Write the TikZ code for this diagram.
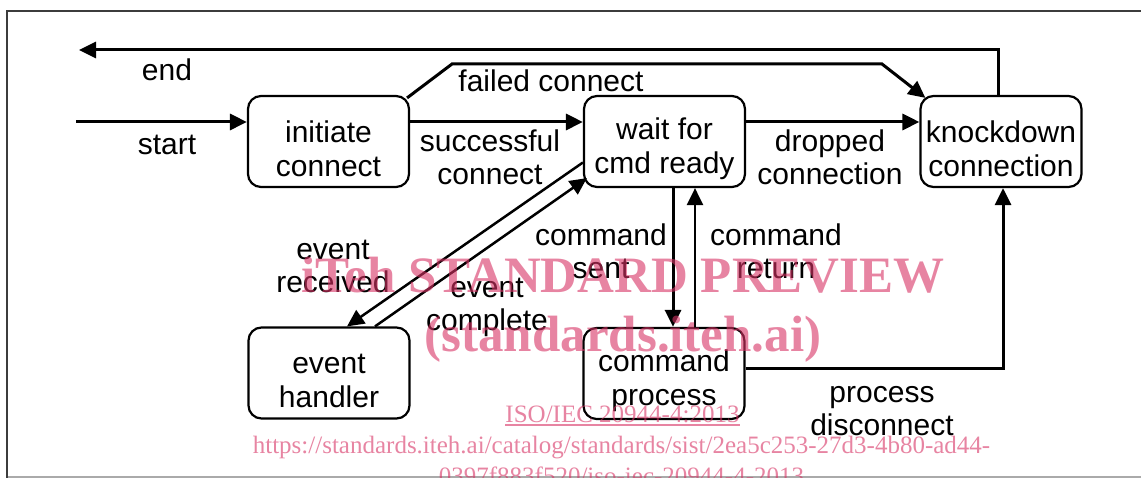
\documentclass[tikz,border=0pt]{standalone}
\usepackage{fontspec}
\setmainfont{Liberation Sans}
\newfontfamily\wmfont{Liberation Serif}
\usetikzlibrary{arrows.meta}
\definecolor{wmpink}{RGB}{215,50,100}
\definecolor{framedark}{RGB}{60,60,60}
\definecolor{framelight}{RGB}{170,170,170}
% raises the top of the first text line so two-line box texts sit a little lower
\newcommand{\topstrut}{\rule{0pt}{36pt}}
\tikzset{
  state/.style={draw, line width=2.2pt, rounded corners=13pt,
    minimum width=161pt, minimum height=91pt, inner sep=0pt,
    align=center, font=\fontsize{30}{34}\selectfont},
  lbl/.style={align=center, inner sep=0pt, font=\fontsize{30}{33}\selectfont},
  arr/.style={line width=3pt, -{Triangle[length=17pt,width=16pt]}},
  thinarr/.style={line width=2.5pt, -{Triangle[length=17pt,width=16pt]}},
  wm/.style={text=wmpink, text opacity=0.6, inner sep=0pt, anchor=base}
}
\begin{document}
\begin{tikzpicture}[x=1pt,y=-1pt]
  \clip (0,0) rectangle (1141,478);

  % page frame
  \draw[framedark, line width=2pt] (7,478) -- (7,11) -- (1141,11);
  \draw[framelight, line width=2pt] (8,477) -- (1141,477);

  % states
  \node[state] (init)    at (328.5,141.5) {\topstrut initiate\\connect};
  \node[state] (wait)    at (664.5,141.5) {\topstrut wait for\\cmd ready};
  \node[state] (knock)   at (1001,141.5)  {\topstrut knockdown\\connection};
  \node[state] (handler) at (329,373)     {\topstrut event\\handler};
  \node[state] (proc)    at (664,373.5)   {\topstrut command\\process};

  % free ends
  \coordinate (startpt) at (76,122);
  \coordinate (endpt)   at (79,50);
  \coordinate (fc1)     at (452,64);
  \coordinate (fc2)     at (882,64);

  % transitions
  \draw[arr] (startpt) -- (startpt -| init.west);
  \draw[arr] ([xshift=-3pt]knock.north) |- (endpt);
  \draw[arr] ([xshift=-3pt,yshift=-3pt]init.north east) -- (fc1) -- (fc2)
             -- ([xshift=6pt,yshift=-3pt]knock.north west);
  \draw[arr] ([yshift=19.5pt]init.east) -- ([yshift=19.5pt]wait.west);
  \draw[arr] ([yshift=19.5pt]wait.east) -- ([yshift=19.5pt]knock.west);
  \draw[arr] ([xshift=8.5pt]wait.south) -- ([xshift=9pt]proc.north);
  \draw[thinarr] ([xshift=31pt]proc.north) -- ([xshift=30.5pt]wait.south);
  \draw[arr] ([yshift=4.5pt]proc.east) -| ([xshift=2pt]knock.south);
  \draw[thinarr] ([yshift=-21pt]wait.west) -- ([xshift=18pt]handler.north);
  \draw[thinarr] ([xshift=46pt]handler.north) -- ([xshift=4pt,yshift=10pt]wait.south west);

  % transition labels
  \node[lbl] (lend)     at (167,70)  {end};
  \node[lbl] (lstart)   at (167,145) {start};
  \node[lbl] (lfailed)  at (551,81)  {failed connect};
  \node[lbl] (lsucc)    at (490,157) {successful\\connect};
  \node[lbl] (ldrop)    at (830,157) {dropped\\connection};
  \node[lbl] (lsent)    at (601,251) {command\\sent};
  \node[lbl] (lreturn)  at (776,251) {command\\return};
  \node[lbl] (lrecv)    at (333,266) {event\\received};
  \node[lbl] (lcompl)   at (487,307) {event\\complete};
  \node[lbl] (ldisc)    at (882,411) {process\\disconnect};

  % stamp
  \node[wm, font=\wmfont\bfseries\fontsize{51}{51}\selectfont] (wm1) at (623,293) {iTeh STANDARD PREVIEW};
  \node[wm, font=\wmfont\bfseries\fontsize{51}{51}\selectfont] (wm2) at (623,352) {(standards.iteh.ai)};
  \node[wm, font=\wmfont\fontsize{25}{25}\selectfont] (wm3) at (622.5,422) {ISO/IEC 20944-4:2013};
  \draw[wmpink, opacity=0.6, line width=1.2pt] (wm3.base west) ++(0,3) -- ([yshift=-3pt]wm3.base east);
  \node[wm, font=\wmfont\fontsize{25}{25}\selectfont] (wm4) at (621.5,453) {https://standards.iteh.ai/catalog/standards/sist/2ea5c253-27d3-4b80-ad44-};
  \node[wm, font=\wmfont\fontsize{25}{25}\selectfont] (wm5) at (621.5,484) {0397f883f520/iso-iec-20944-4-2013};
\end{tikzpicture}
\end{document}
